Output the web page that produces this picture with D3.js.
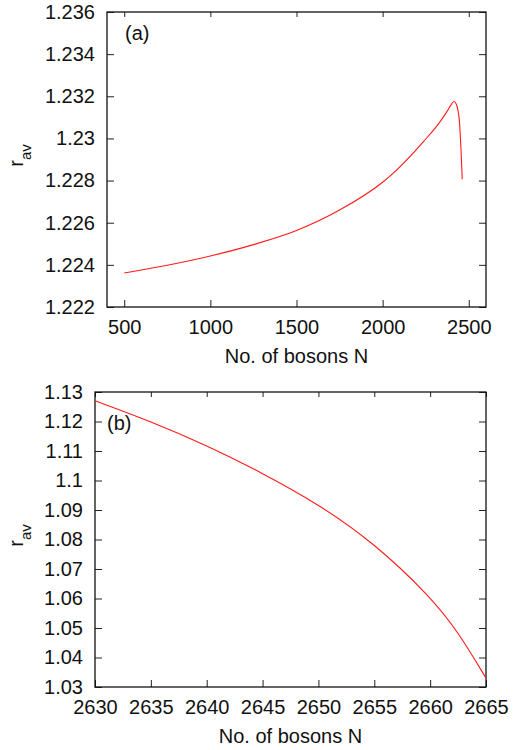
<!DOCTYPE html>
<html>
<head>
<meta charset="utf-8">
<script src="https://cdn.jsdelivr.net/npm/d3@7"></script>
<style>
  body { margin: 0; background: #fff; }
  text { font-family: "Liberation Sans", Arial, Helvetica, sans-serif; fill: #111; }
</style>
</head>
<body>
<div id="viz"></div>
<script>
// panel (a) values
var aN = [500, 750, 1000, 1250, 1500, 1750, 2000, 2044, 2237, 2334, 2373, 2400, 2414, 2424,
          2431, 2438, 2445, 2455, 2462];
var aR = [1.22361, 1.22398, 1.22442, 1.22496, 1.22563, 1.22660, 1.22792, 1.22822, 1.22985, 1.23080,
          1.23127, 1.23163, 1.23175, 1.23168, 1.23155, 1.23130, 1.23088, 1.22945, 1.22806];
var aXTicks = [500, 1000, 1500, 2000, 2500];
var aYTicks = [1.222, 1.224, 1.226, 1.228, 1.23, 1.232, 1.234, 1.236];
var aYLabels = ["1.222", "1.224", "1.226", "1.228", "1.23", "1.232", "1.234", "1.236"];

// panel (b)
var bN = [2630, 2635, 2640, 2645, 2650, 2655, 2660, 2662.5, 2665];
var bR = [1.1270, 1.1200, 1.1119, 1.1025, 1.0920, 1.07875, 1.06075, 1.04875, 1.0330];
var bXTicks = [2630, 2635, 2640, 2645, 2650, 2655, 2660, 2665];
var bYTicks = [1.03, 1.04, 1.05, 1.06, 1.07, 1.08, 1.09, 1.1, 1.11, 1.12, 1.13];
var bYLabels = ["1.03", "1.04", "1.05", "1.06", "1.07", "1.08", "1.09", "1.1", "1.11", "1.12", "1.13"];

var svg = d3.select("#viz")
  .append("svg")
  .attr("width", 528)
  .attr("height", 750);

function panel(opt) {
  var width = opt.right - opt.left,
      height = opt.bottom - opt.top;

  var g = svg.append("g")
    .attr("transform", "translate(" + opt.left + "," + opt.top + ")");

  var x = d3.scaleLinear().domain(opt.xDomain).range([0, width]);
  var y = d3.scaleLinear().domain(opt.yDomain).range([height, 0]);

  // bottom axis with labels, ticks pointing inward
  g.append("g")
    .attr("transform", "translate(0," + height + ")")
    .call(d3.axisBottom(x).tickValues(opt.xTicks).tickFormat(d3.format("d"))
      .tickSizeInner(-7).tickSizeOuter(0).tickPadding(13));
  // left axis
  g.append("g")
    .call(d3.axisLeft(y).tickValues(opt.yTicks)
      .tickFormat(function(d, i) { return opt.yLabels[i]; })
      .tickSizeInner(-7).tickSizeOuter(0).tickPadding(12));
  // mirrored ticks
  g.append("g")
    .call(d3.axisTop(x).tickValues(opt.xTicks).tickFormat("")
      .tickSizeInner(-5).tickSizeOuter(0));
  g.append("g")
    .attr("transform", "translate(" + width + ",0)")
    .call(d3.axisRight(y).tickValues(opt.yTicks).tickFormat("")
      .tickSizeInner(-7).tickSizeOuter(0));

  g.selectAll(".domain").remove();
  g.selectAll(".tick line").attr("stroke", "#222");
  g.selectAll(".tick text").style("font-size", "20px").attr("fill", "#111");

  g.append("rect")
    .attr("width", width).attr("height", height)
    .attr("fill", "none").attr("stroke", "#111").attr("stroke-width", 1.3);

  var pts = opt.xs.map(function(d, i) { return [d, opt.ys[i]]; });
  g.append("path").datum(pts)
    .attr("fill", "none")
    .attr("stroke", "#ff1a1a")
    .attr("stroke-width", 1.1)
    .attr("d", d3.line()
      .curve(opt.curve)
      .x(function(d) { return x(d[0]); })
      .y(function(d) { return y(d[1]); }));

  // x title
  g.append("text")
    .attr("x", width / 2)
    .attr("y", height + 56)
    .attr("text-anchor", "middle")
    .style("font-size", "20px")
    .text("No. of bosons N");

  // y title r_av
  var yl = g.append("text")
    .attr("transform", "translate(" + (23 - opt.left) + "," + (height / 2 - 4) + ") rotate(-90)")
    .attr("text-anchor", "middle")
    .style("font-size", "20px");
  yl.append("tspan").text("r");
  yl.append("tspan").attr("dy", 8).style("font-size", "15px").text("av");

  // panel tag
  g.append("text")
    .attr("x", opt.tagX)
    .attr("y", opt.tagY)
    .style("font-size", "20px")
    .text(opt.tag);
}

panel({
  left: 107, right: 486, top: 12, bottom: 307,
  xDomain: [400, 2600], yDomain: [1.222, 1.236],
  xTicks: aXTicks, yTicks: aYTicks, yLabels: aYLabels,
  xs: aN, ys: aR, tag: "(a)", tagX: 18, tagY: 28,
  curve: d3.curveMonotoneX
});

panel({
  left: 95, right: 486, top: 392, bottom: 687,
  xDomain: [2630, 2665], yDomain: [1.03, 1.13],
  xTicks: bXTicks, yTicks: bYTicks, yLabels: bYLabels,
  xs: bN, ys: bR, tag: "(b)", tagX: 12, tagY: 38,
  curve: d3.curveBasis
});
</script>
</body>
</html>
